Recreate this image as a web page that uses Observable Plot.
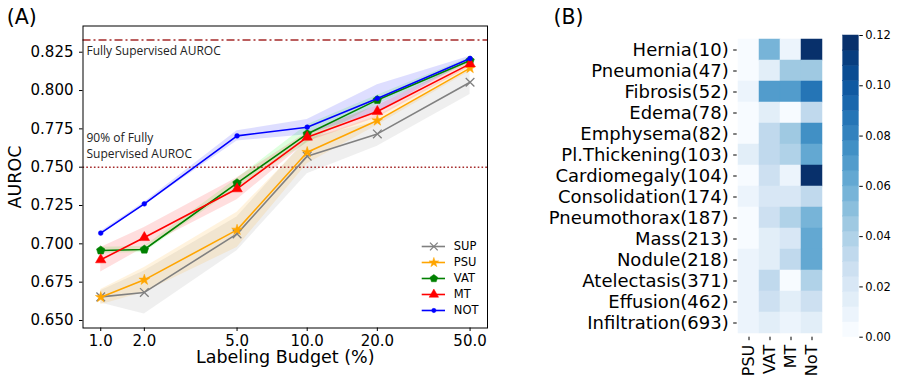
<!DOCTYPE html>
<html><head><meta charset="utf-8">
<script src="https://cdn.jsdelivr.net/npm/d3@7"></script>
<script src="https://cdn.jsdelivr.net/npm/@observablehq/plot@0.6"></script>
<style>
body{margin:0;background:#fff;}
#wrap{position:relative;width:897px;height:379px;overflow:hidden;font-family:"DejaVu Sans";background:#fff;}
#wrap > *{position:absolute;}
.panel{font-size:20.5px;line-height:1;color:#000;top:6.7px;}
</style></head><body><div id="wrap"></div>
<script>
// ---------- Panel A data ----------
const budgets = [1, 2, 5, 10, 20, 50];
const budgetLabels = ["1.0", "2.0", "5.0", "10.0", "20.0", "50.0"];
const methods = ["SUP", "PSU", "VAT", "MT", "NOT"];
const methodColors = ["gray", "orange", "green", "red", "blue"];
const bandColors = ["gray", "orange", "lime", "red", "blue"];
const supAuroc = [0.6654, 0.6683, 0.7065, 0.7572, 0.7717, 0.8054];
const supStd   = [0.004, 0.014, 0.011, 0.0115, 0.008, 0.008];
const psuAuroc = [0.6652, 0.6765, 0.7091, 0.7598, 0.7804, 0.8146];
const psuStd   = [0.005, 0.008, 0.0115, 0.0076, 0.003, 0.002];
const vatAuroc = [0.6957, 0.6963, 0.7396, 0.7717, 0.7939, 0.8196];
const vatStd   = [0.002, 0.002, 0.003, 0.006, 0.003, 0.002];
const mtAuroc  = [0.6896, 0.7041, 0.7359, 0.7696, 0.7863, 0.8174];
const mtStd    = [0.008, 0.0065, 0.0072, 0.003, 0.004, 0.002];
const notAuroc = [0.7070, 0.7261, 0.7704, 0.7761, 0.7948, 0.8209];
const notStd   = [0.001, 0.001, 0.0033, 0.005, 0.009, 0.0015];
const fullySupervised = 0.833;
const ninetyPercent = 0.75;
const yTicks = [0.650, 0.675, 0.700, 0.725, 0.750, 0.775, 0.800, 0.825];

// ---------- Panel B data ----------
const diseases = ["Hernia(10)", "Pneumonia(47)", "Fibrosis(52)", "Edema(78)", "Emphysema(82)",
  "Pl.Thickening(103)", "Cardiomegaly(104)", "Consolidation(174)", "Pneumothorax(187)",
  "Mass(213)", "Nodule(218)", "Atelectasis(371)", "Effusion(462)", "Infiltration(693)"];
const heatMethods = ["PSU", "VAT", "MT", "NoT"];
const psuGain = [0.003, 0.002, 0.009, 0.002, 0.002, 0.014, 0.003, 0.009, 0.002, 0.001, 0.009, 0.009, 0.009, 0.009];
const vatGain = [0.057, 0.015, 0.066, 0.015, 0.032, 0.032, 0.027, 0.021, 0.026, 0.015, 0.018, 0.032, 0.026, 0.014];
const mtGain  = [0.009, 0.045, 0.066, 0.001, 0.045, 0.038, 0.008, 0.021, 0.039, 0.020, 0.033, 0.002, 0.013, 0.009];
const notGain = [0.120, 0.045, 0.087, 0.031, 0.075, 0.060, 0.120, 0.031, 0.058, 0.064, 0.062, 0.039, 0.026, 0.013];
const colorTicks = [0, 0.02, 0.04, 0.06, 0.08, 0.10, 0.12];
const colorMax = 0.12;
const colorLevels = 20;

// ---------- build tables ----------
const auroc = [supAuroc, psuAuroc, vatAuroc, mtAuroc, notAuroc];
const stds = [supStd, psuStd, vatStd, mtStd, notStd];
const seriesRows = methods.map((m, i) => budgets.map((b, j) => ({method: m, budget: b, v: auroc[i][j], s: stds[i][j]})));
const budgetTicks = budgets.map((b, i) => ({budget: b, label: budgetLabels[i]}));

const gains = [psuGain, vatGain, mtGain, notGain];
const heatData = heatMethods.flatMap((m, i) => diseases.map((d, j) => ({method: m, disease: d, gain: gains[i][j]})));

const step = colorMax / colorLevels;
const thresholds = d3.range(1, colorLevels).map(i => i * step);
const levelStarts = d3.range(0, colorLevels).map(i => i * step);
const levelColors = d3.quantize(d3.interpolateBlues, colorLevels);
const colorScale = {type: "threshold", domain: thresholds, range: levelColors};

const pentagon = {
  draw(context, size) {
    const R = Math.sqrt(size / (2.5 * Math.sin(2 * Math.PI / 5)));
    for (let i = 0; i < 5; i++) {
      const a = -Math.PI / 2 + i * 2 * Math.PI / 5;
      const x = R * Math.cos(a), y = R * Math.sin(a);
      if (i) context.lineTo(x, y); else context.moveTo(x, y);
    }
    context.closePath();
  }
};
const symbols = ["times", "star", pentagon, "triangle", "circle"];
const symbolR = [4, 3.4, 3.9, 3.9, 2.4];
const symbolFilled = [false, true, true, true, true];

function dotOpts(i) {
  const o = {x: "budget", y: "v", symbol: () => symbols[i], r: symbolR[i]};
  if (symbolFilled[i]) { o.fill = methodColors[i]; o.stroke = methodColors[i]; o.strokeWidth = 0.5; }
  else { o.fill = "none"; o.stroke = methodColors[i]; o.strokeWidth = 1.3; }
  return o;
}

const wrap = document.getElementById("wrap");

// ---------- Panel A ----------
const marksA = [];
seriesRows.forEach((rows, i) => marksA.push(Plot.areaY(rows, {x: "budget", y1: d => d.v - d.s, y2: d => d.v + d.s, fill: bandColors[i], fillOpacity: 0.13})));
marksA.push(Plot.ruleY([fullySupervised], {stroke: "brown", strokeWidth: 1.6, strokeDasharray: "8,3,2,3"}));
marksA.push(Plot.ruleY([ninetyPercent], {stroke: "brown", strokeWidth: 1.6, strokeDasharray: "1.6,2.2"}));
seriesRows.forEach((rows, i) => {
  marksA.push(Plot.line(rows, {x: "budget", y: "v", stroke: methodColors[i], strokeWidth: 1.6}));
  marksA.push(Plot.dot(rows, dotOpts(i)));
});
marksA.push(Plot.text(["Fully Supervised AUROC"], {y: [fullySupervised], text: d => d, frameAnchor: "left", dx: 3.5, dy: 11.4, textAnchor: "start", lineAnchor: "middle", fontFamily: "Open Sans", fontSize: 12, fill: "#222"}));
marksA.push(Plot.text(["90% of Fully\nSupervised AUROC"], {y: [ninetyPercent], text: d => d, frameAnchor: "left", dx: 3.5, dy: -22.2, textAnchor: "start", lineAnchor: "middle", lineHeight: 1.3, fontFamily: "Open Sans", fontSize: 12, fill: "#222"}));
marksA.push(Plot.axisY(yTicks, {tickFormat: d3.format(".3f"), tickSize: 3.5, tickPadding: 6, fontSize: 15, label: null, stroke: "black"}));
marksA.push(Plot.axisX(budgets, {tickFormat: () => "", tickSize: 3.5, tickPadding: 5, fontSize: 15, label: null, stroke: "black"}));
marksA.push(Plot.text(budgetTicks, {x: "budget", text: "label", frameAnchor: "bottom", dy: 7, lineAnchor: "top", textAnchor: "middle", fontSize: 15, fill: "black"}));
marksA.push(Plot.text(["AUROC"], {frameAnchor: "left", dx: -68, rotate: -90, textAnchor: "middle", lineAnchor: "middle", fontSize: 17.5, fill: "black"}));
marksA.push(Plot.text(["Labeling Budget (%)"], {frameAnchor: "bottom", dy: 29.5, textAnchor: "middle", lineAnchor: "middle", fontSize: 17.5, fill: "black"}));
marksA.push(Plot.frame({stroke: "black", strokeWidth: 1}));

const chartA = Plot.plot({
  width: 500, height: 379,
  marginLeft: 82.5, marginRight: 13, marginTop: 25.5, marginBottom: 51.5,
  style: {fontFamily: "DejaVu Sans", color: "black", background: "transparent", overflow: "visible"},
  x: {type: "log", domain: [1.091, 59.4], transform: b => (b === 1 ? 1.3 : b), label: null},
  y: {domain: [0.6451, 0.8421], label: null},
  marks: marksA
});
chartA.style.left = "0px"; chartA.style.top = "0px";
wrap.appendChild(chartA);

// legend for panel A
const legend = Plot.plot({
  width: 80, height: 82.7,
  marginLeft: 6.7, marginRight: 50, marginTop: 8.3, marginBottom: 8,
  style: {fontFamily: "DejaVu Sans", color: "black", background: "transparent", overflow: "visible"},
  x: {domain: [0, 1], axis: null},
  y: {type: "point", domain: methods, padding: 0, axis: null},
  color: {domain: methods, range: methodColors},
  marks: [
    Plot.ruleY(methods, {y: d => d, x1: 0, x2: 1, stroke: d => d, strokeWidth: 1.6}),
    ...methods.map((m, i) => Plot.dot([m], {x: [0.5], y: d => d, symbol: () => symbols[i], r: symbolR[i] * 0.9,
      fill: symbolFilled[i] ? methodColors[i] : "none", stroke: methodColors[i], strokeWidth: symbolFilled[i] ? 0.5 : 1.3})),
    Plot.text(methods, {x: [1, 1, 1, 1, 1], y: d => d, text: d => d, dx: 8.3, textAnchor: "start", lineAnchor: "middle", fontSize: 11.5, fill: "black"})
  ]
});
legend.style.left = "415px"; legend.style.top = "236px";
wrap.appendChild(legend);

// ---------- Panel B heatmap ----------
const chartB = Plot.plot({
  width: 290, height: 379,
  marginLeft: 196.7, marginRight: 6.7, marginTop: 35, marginBottom: 42.3,
  style: {fontFamily: "DejaVu Sans", color: "black", background: "transparent", overflow: "visible"},
  x: {type: "band", domain: heatMethods, padding: 0, label: null},
  y: {type: "band", domain: diseases, padding: 0, label: null},
  color: colorScale,
  marks: [
    Plot.cell(heatData, {x: "method", y: "disease", fill: "gain", stroke: "gain", strokeWidth: 0.5, inset: 0}),
    Plot.axisY({tickSize: 3.5, tickPadding: 5, fontSize: 18, label: null, stroke: "black"}),
    Plot.axisX({tickRotate: -90, tickSize: 3.5, tickPadding: 4, fontSize: 16, label: null, stroke: "black"})
  ]
});
chartB.style.left = "540px"; chartB.style.top = "0px";
wrap.appendChild(chartB);

// colorbar
const colorbar = Plot.plot({
  width: 67, height: 379,
  marginLeft: 12.7, marginRight: 38.7, marginTop: 35, marginBottom: 42.3,
  style: {fontFamily: "DejaVu Sans", color: "black", background: "transparent", overflow: "visible"},
  x: {domain: [0, 1], axis: null},
  y: {domain: [0, colorMax], label: null},
  color: colorScale,
  marks: [
    Plot.rect(levelStarts, {x1: 0, x2: 1, y1: d => d, y2: d => d + step, fill: d => d + step / 2, stroke: d => d + step / 2, strokeWidth: 0.5}),
    Plot.axisY(colorTicks, {anchor: "right", tickFormat: d3.format(".2f"), tickSize: 3.5, tickPadding: 3, fontSize: 11.5, label: null, stroke: "black"})
  ]
});
colorbar.style.left = "830px"; colorbar.style.top = "0px";
wrap.appendChild(colorbar);

// panel labels
const la = document.createElement("div"); la.className = "panel"; la.textContent = "(A)"; la.style.left = "6.7px"; wrap.appendChild(la);
const lb = document.createElement("div"); lb.className = "panel"; lb.textContent = "(B)"; lb.style.left = "553.5px"; wrap.appendChild(lb);
</script>
</body></html>
